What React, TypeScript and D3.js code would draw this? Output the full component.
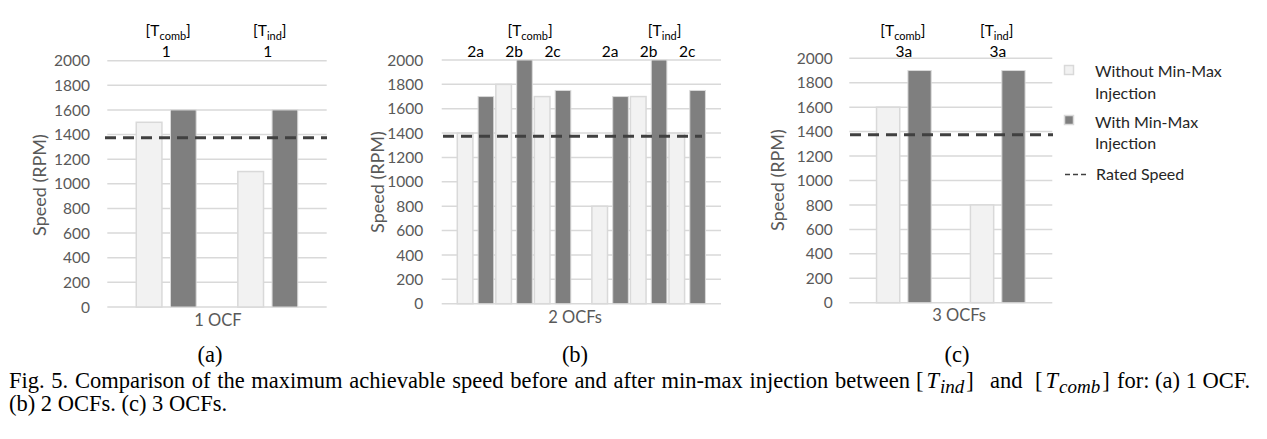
import React from "react";
import * as d3 from "d3";

// ---------- data ----------
const groups = ["comb", "ind"];
const series = ["without", "with"];
const yTicks = [0, 200, 400, 600, 800, 1000, 1200, 1400, 1600, 1800, 2000];
const ratedSpeed = 1375;

const subsA = ["1"];
const withoutA = [1500, 1100];
const withA = [1600, 1600];

const subsB = ["2a", "2b", "2c"];
const withoutB = [1400, 1800, 1700, 800, 1700, 1400];
const withB = [1700, 2000, 1750, 1700, 2000, 1750];

const subsC = ["3a"];
const withoutC = [1600, 800];
const withC = [1900, 1900];

const xTitles = ["1 OCF", "2 OCFs", "3 OCFs"];
const panelTags = ["(a)", "(b)", "(c)"];
const legendLabels = [["Without Min-Max", "Injection"], ["With Min-Max", "Injection"], ["Rated Speed"]];

// ---------- layout ----------
const SANS = "Lato, 'Open Sans', sans-serif";
const SERIF = "'Liberation Serif', 'Times New Roman', serif";
const LIGHT = "#f2f2f2";
const DARK = "#7f7f7f";
const GRID = "#d9d9d9";

const layouts = [
  { x0: 107.3, x1: 326.7, y0: 307, yTop: 60.7, gIn: 0.41, gOut: 0.285, bIn: 0.25, bOut: 0, tickX: 90, titleX: 40, titleY: 185, labelDx: 2, dash: [105, 327], xTitleX: 218, xTitleY: 326, tagX: 210 },
  { x0: 441.7, x1: 721, y0: 303.7, yTop: 60, gIn: 0.141, gOut: 0.108, bIn: 0.25, bOut: 0.05, tickX: 423.3, titleX: 378, titleY: 182, labelDx: 16, dash: [443, 702], xTitleX: 575, xTitleY: 322.7, tagX: 575 },
  { x0: 849.3, x1: 1052.3, y0: 302.7, yTop: 58.3, gIn: 0.418, gOut: 0.29, bIn: 0.26, bOut: 0, tickX: 832.7, titleX: 778, titleY: 180, labelDx: -1, dash: [850, 1053], xTitleX: 959, xTitleY: 320.7, tagX: 957 },
];

function GroupLabel({ x, y, sub }: { x: number; y: number; sub: string }) {
  return (
    <text x={x} y={y} textAnchor="middle" fontFamily={SANS} fontSize={15.5} fill="#000">
      [T<tspan fontSize={11} dy={4}>{sub}</tspan><tspan dy={-4}>]</tspan>
    </text>
  );
}

function Panel({ idx, subs, without, withV }: { idx: number; subs: string[]; without: number[]; withV: number[] }) {
  const L = layouts[idx];
  const y = d3.scaleLinear().domain([0, 2000]).range([L.y0, L.yTop]);
  const gx = d3.scaleBand().domain(groups).range([L.x0, L.x1]).paddingInner(L.gIn).paddingOuter(L.gOut);
  const sx = d3.scaleBand().domain(subs).range([0, gx.bandwidth()]);
  const bx = d3.scaleBand().domain(series).range([0, sx.bandwidth()]).paddingInner(L.bIn).paddingOuter(L.bOut);
  const vals = [without, withV];
  return (
    <g>
      {yTicks.map((t) => (
        <g key={t}>
          <line x1={L.x0} x2={L.x1} y1={y(t)} y2={y(t)} stroke={GRID} strokeWidth={1.5} />
          <text x={L.tickX} y={y(t)} dy="0.36em" textAnchor="end" fontFamily={SANS} fontSize={15.5} fill="#595959">{t}</text>
        </g>
      ))}
      <text transform={`translate(${L.titleX},${L.titleY}) rotate(-90)`} textAnchor="middle" dy="0.36em" fontFamily={SANS} fontSize={18} fill="#595959">Speed (RPM)</text>
      {groups.map((g, gi) =>
        subs.map((s, si) =>
          series.map((se, k) => {
            const v = vals[k][gi * subs.length + si];
            const x = (gx(g) as number) + (sx(s) as number) + (bx(se) as number);
            return (
              <rect key={g + s + se} x={x} y={y(v)} width={bx.bandwidth()} height={y(0) - y(v)}
                fill={k === 0 ? LIGHT : DARK} stroke={GRID} strokeWidth={k === 0 ? 1.5 : 1} />
            );
          })
        )
      )}
      <line x1={L.dash[0]} x2={L.dash[1]} y1={y(ratedSpeed)} y2={y(ratedSpeed)} stroke="#404040" strokeWidth={3} strokeDasharray="11,7" />
      {groups.map((g) => (
        <GroupLabel key={g} x={(gx(g) as number) + gx.bandwidth() / 2 + L.labelDx} y={36} sub={g} />
      ))}
      {groups.map((g) =>
        subs.map((s) => (
          <text key={g + s} x={(gx(g) as number) + (sx(s) as number) + sx.bandwidth() / 2} y={56.7} textAnchor="middle" fontFamily={SANS} fontSize={15.5} fill="#000">{s}</text>
        ))
      )}
      <text x={L.xTitleX} y={L.xTitleY} textAnchor="middle" fontFamily={SANS} fontSize={16.5} fill="#595959">{xTitles[idx]}</text>
      <text x={L.tagX} y={362} textAnchor="middle" fontFamily={SERIF} fontSize={22.5} fill="#000">{panelTags[idx]}</text>
    </g>
  );
}

function MathT({ x, sub }: { x: number; sub: string }) {
  return (
    <text x={x} y={388} fontFamily={SERIF} fontSize={22.5} fill="#000">
      [<tspan dx={3} fontStyle="italic">T</tspan><tspan dx={1} fontStyle="italic" fontSize={19} dy={5}>{sub}</tspan><tspan dx={2} dy={-5}>]</tspan>
    </text>
  );
}

export default function App() {
  return (
    <svg width={1267} height={439} style={{ position: "absolute", left: 0, top: 0, background: "#fff" }}>
      <rect width={1267} height={439} fill="#fff" />
      <Panel idx={0} subs={subsA} without={withoutA} withV={withA} />
      <Panel idx={1} subs={subsB} without={withoutB} withV={withB} />
      <Panel idx={2} subs={subsC} without={withoutC} withV={withC} />
      {/* legend */}
      <g fontFamily={SANS} fontSize={16} fill="#262626">
        <rect x={1064.5} y={65.5} width={9} height={9} fill={LIGHT} stroke={GRID} strokeWidth={1.5} />
        <text x={1095} y={76.7}>{legendLabels[0][0]}</text>
        <text x={1095} y={99}>{legendLabels[0][1]}</text>
        <rect x={1064.5} y={115.5} width={9} height={9} fill={DARK} stroke={GRID} strokeWidth={1.5} />
        <text x={1095} y={128.3}>{legendLabels[1][0]}</text>
        <text x={1095} y={149}>{legendLabels[1][1]}</text>
        <line x1={1065} x2={1088} y1={174.5} y2={174.5} stroke="#404040" strokeWidth={1.5} strokeDasharray="5,3" />
        <text x={1096} y={180}>{legendLabels[2][0]}</text>
      </g>
      {/* caption */}
      <text x={9} y={388} fontFamily={SERIF} fontSize={22.5} wordSpacing={1.1} fill="#000">Fig. 5. Comparison of the maximum achievable speed before and after min-max injection between</text>
      <MathT x={916} sub="ind" />
      <text x={990} y={388} fontFamily={SERIF} fontSize={22.5} fill="#000">and</text>
      <MathT x={1035} sub="comb" />
      <text x={1117} y={388} fontFamily={SERIF} fontSize={22.5} fill="#000">for: (a) 1 OCF.</text>
      <text x={9} y={410.5} fontFamily={SERIF} fontSize={22.5} fill="#000">(b) 2 OCFs. (c) 3 OCFs.</text>
    </svg>
  );
}
